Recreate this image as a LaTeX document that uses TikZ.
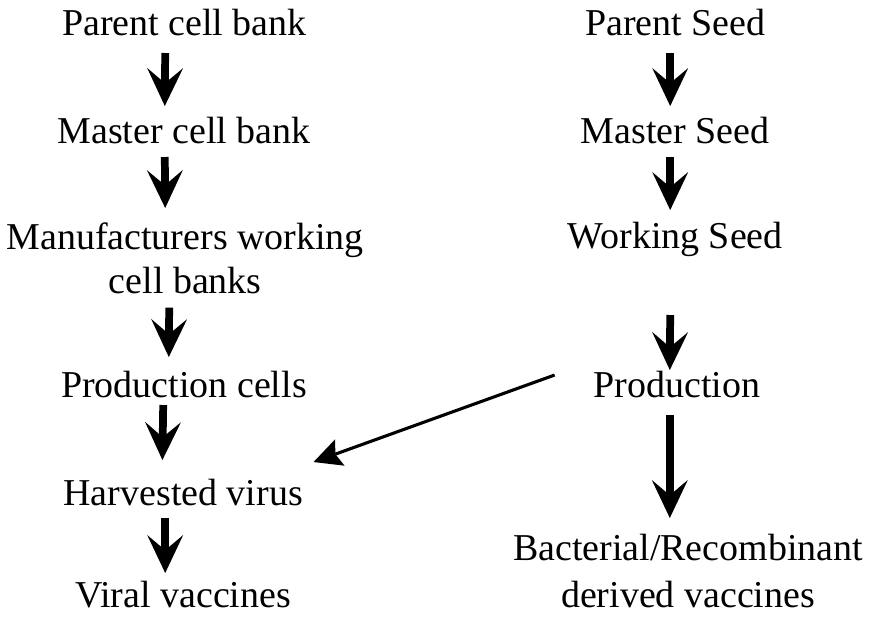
\documentclass[tikz,border=0pt]{standalone}
\usepackage{fontspec}
\setmainfont{Liberation Serif}
\usetikzlibrary{arrows.meta}

\begin{document}
\begin{tikzpicture}[
    stage/.style={inner sep=0pt, anchor=base, font=\fontsize{27}{31.3}\selectfont},
    twoline/.style={inner sep=0pt, anchor=north, align=center, font=\fontsize{27}{31.3}\selectfont},
    downarrow/.style={line width=5.5pt, -{Stealth[length=0.95cm, width=0.9cm, inset=0.38cm, line width=0pt]}},
    sidearrow/.style={line width=2.2pt, -{Stealth[length=0.7cm, width=0.7cm, inset=0.12cm, line width=0pt]}}
    ]
    \useasboundingbox (0,0) rectangle (22,-15.4);

    % cell bank side
    \node[stage] (pcb) at (4.61,-0.875) {Parent cell bank};
    \node[stage] (mcb) at (4.6,-3.575) {Master cell bank};
    \node[twoline] (mwcb) at (4.63,-5.55) {Manufacturers working\\cell banks};
    \node[stage] (pc) at (4.6,-9.925) {Production cells};
    \node[stage] (hv) at (4.58,-12.625) {Harvested virus};
    \node[stage] (vv) at (4.58,-15.175) {Viral vaccines};

    % seed side
    \node[stage] (ps) at (16.88,-0.875) {Parent Seed};
    \node[stage] (ms) at (16.88,-3.575) {Master Seed};
    \node[stage] (ws) at (16.88,-6.2) {Working Seed};
    \node[stage] (prod) at (16.92,-9.925) {Production};
    \node[twoline, font=\fontsize{27}{33.4}\selectfont] (brv) at (17.2,-13.35) {Bacterial/Recombinant\\derived vaccines};

    \draw[downarrow] ([shift={(-0.48cm,-0.45cm)}]pcb.base) -- ([shift={(-0.48cm,0.925cm)}]mcb.base);
    \draw[downarrow] ([shift={(-0.48cm,-0.35cm)}]mcb.base) -- ([shift={(-0.5cm,0.35cm)}]mwcb.north);
    \draw[downarrow] ([shift={(-0.4cm,-0.35cm)}]mwcb.south) -- ([shift={(-0.38cm,1cm)}]pc.base);
    \draw[downarrow] ([shift={(-0.52cm,-0.2cm)}]pc.base) -- ([shift={(-0.52cm,1.125cm)}]hv.base);
    \draw[downarrow] ([shift={(-0.45cm,-0.325cm)}]hv.base) -- ([shift={(-0.45cm,0.85cm)}]vv.base);

    \draw[downarrow] ([shift={(-0.125cm,-0.45cm)}]ps.base) -- ([shift={(-0.125cm,0.925cm)}]ms.base);
    \draw[downarrow] ([shift={(-0.125cm,-0.35cm)}]ms.base) -- ([shift={(-0.125cm,0.95cm)}]ws.base);
    \draw[downarrow] ([shift={(-0.125cm,-1.675cm)}]ws.base) -- ([shift={(-0.175cm,0.675cm)}]prod.base);
    \draw[downarrow] ([shift={(-0.175cm,-0.45cm)}]prod.base) -- ([shift={(-0.175cm,0.4cm)}]prod.base |- brv.north);

    \draw[sidearrow] ([shift={(-0.965cm,0.225cm)}]prod.west) -- ([shift={(0.26cm,0.75cm)}]hv.east);
\end{tikzpicture}
\end{document}
